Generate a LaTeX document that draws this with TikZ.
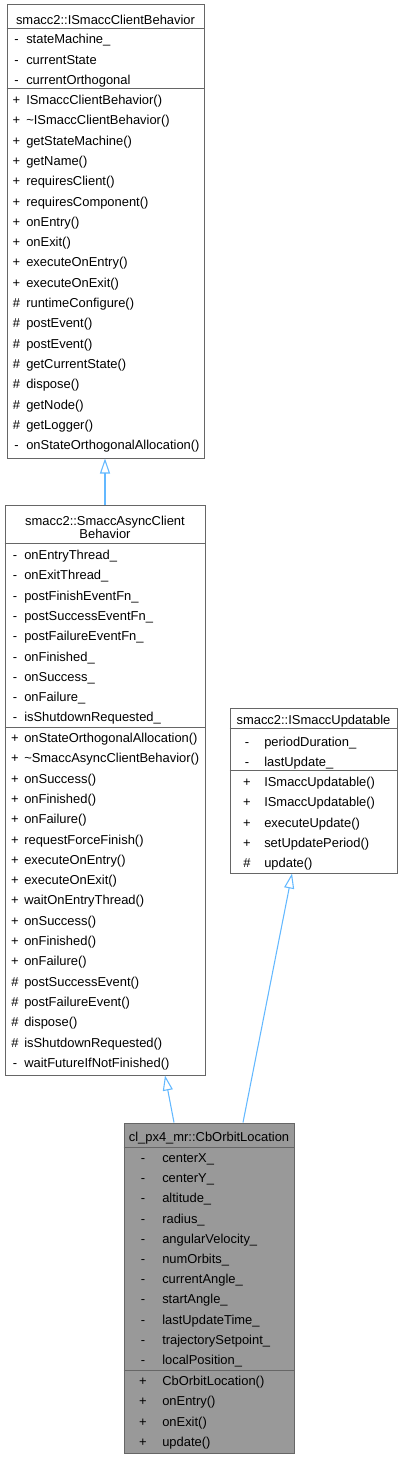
\documentclass[tikz,border=0pt]{standalone}
\usepackage{fontspec}
\setmainfont{Liberation Sans}
\usetikzlibrary{arrows.meta,fit}
\definecolor{UBorder}{HTML}{666666}
\definecolor{UFill}{HTML}{999999}
\definecolor{UEdge}{HTML}{63B8FF}

\begin{document}
\begin{tikzpicture}[x=0.75pt,y=-0.75pt,
  classbox/.style={draw=UBorder,line width=0.75pt,inner sep=0pt,fill=white},
  sep/.style={draw=UBorder,line width=0.75pt},
  ttl/.style={inner sep=0pt,font=\fontsize{9.7}{9.75}\selectfont},
  sym/.style={anchor=base,inner sep=0pt,font=\fontsize{9.7}{11}\selectfont},
  mem/.style={anchor=base west,inner sep=0pt,font=\fontsize{9.7}{11}\selectfont},
  inh/.style={UEdge,line width=0.8pt,-{Triangle[open,length=11.25pt,width=7.5pt]}}]
  \useasboundingbox (0,0) rectangle (402,1459);

  \node[classbox,fit={(7,5) (204,458)}] (base) {};
  \node[classbox,fit={(5,505) (205,1075)}] (async) {};
  \node[classbox,fit={(230,708) (397,873)}] (upd) {};
  \node[classbox,fill=UFill,fit={(124,1123) (294,1453)}] (cb) {};

  \draw[sep] (base.west |- 0,29) -- (base.east |- 0,29);
  \draw[sep] (base.west |- 0,89) -- (base.east |- 0,89);
  \draw[sep] (async.west |- 0,543) -- (async.east |- 0,543);
  \draw[sep] (async.west |- 0,727) -- (async.east |- 0,727);
  \draw[sep] (upd.west |- 0,728) -- (upd.east |- 0,728);
  \draw[sep] (upd.west |- 0,770) -- (upd.east |- 0,770);
  \draw[sep] (cb.west |- 0,1147) -- (cb.east |- 0,1147);
  \draw[sep] (cb.west |- 0,1370) -- (cb.east |- 0,1370);

  \node[ttl,anchor=base] (basetitle) at (105.5,24.5) {smacc2::ISmaccClientBehavior};
  \foreach \s/\m [count=\i from 0] in {-/stateMachine\_,-/currentState,-/currentOrthogonal}{
    \node[sym] (basesa\i) at (16.5,{44+20.3*\i}) {\s};
    \node[mem] (basema\i) at (26,{44+20.3*\i}) {\m};
  }
  \foreach \s/\m [count=\i from 0] in {+/ISmaccClientBehavior(),+/\textasciitilde ISmaccClientBehavior(),
    +/getStateMachine(),+/getName(),+/requiresClient(),+/requiresComponent(),+/onEntry(),+/onExit(),
    +/executeOnEntry(),+/executeOnExit(),\#/runtimeConfigure(),\#/postEvent(),\#/postEvent(),
    \#/getCurrentState(),\#/dispose(),\#/getNode(),\#/getLogger(),-/onStateOrthogonalAllocation()}{
    \node[sym] (basesf\i) at (16.5,{104.5+20.3*\i}) {\s};
    \node[mem] (basemf\i) at (26,{104.5+20.3*\i}) {\m};
  }

  \node[ttl,align=center] (asynctitle) at (105,527) {smacc2::SmaccAsyncClient\\Behavior};
  \foreach \m [count=\i from 0] in {onEntryThread\_,onExitThread\_,postFinishEventFn\_,postSuccessEventFn\_,
    postFailureEventFn\_,onFinished\_,onSuccess\_,onFailure\_,isShutdownRequested\_}{
    \node[sym] (asyncsa\i) at (15,{559.5+20.3*\i}) {-};
    \node[mem] (asyncma\i) at (24,{559.5+20.3*\i}) {\m};
  }
  \foreach \s/\m [count=\i from 0] in {+/onStateOrthogonalAllocation(),+/\textasciitilde SmaccAsyncClientBehavior(),
    +/onSuccess(),+/onFinished(),+/onFailure(),+/requestForceFinish(),+/executeOnEntry(),+/executeOnExit(),
    +/waitOnEntryThread(),+/onSuccess(),+/onFinished(),+/onFailure(),\#/postSuccessEvent(),
    \#/postFailureEvent(),\#/dispose(),\#/isShutdownRequested(),-/waitFutureIfNotFinished()}{
    \node[sym] (asyncsf\i) at (15,{742.5+20.3*\i}) {\s};
    \node[mem] (asyncmf\i) at (24,{742.5+20.3*\i}) {\m};
  }

  \node[ttl,anchor=base] (updtitle) at (313.5,724.5) {smacc2::ISmaccUpdatable};
  \foreach \m [count=\i from 0] in {periodDuration\_,lastUpdate\_}{
    \node[sym] (updsa\i) at (247,{746+20.3*\i}) {-};
    \node[mem] (updma\i) at (264,{746+20.3*\i}) {\m};
  }
  \foreach \s/\m [count=\i from 0] in {+/ISmaccUpdatable(),+/ISmaccUpdatable(),+/executeUpdate(),
    +/setUpdatePeriod(),\#/update()}{
    \node[sym] (updsf\i) at (247,{786.5+20.3*\i}) {\s};
    \node[mem] (updmf\i) at (264,{786.5+20.3*\i}) {\m};
  }

  \node[ttl,anchor=base] (cbtitle) at (209,1141.5) {cl\_px4\_mr::CbOrbitLocation};
  \foreach \m [count=\i from 0] in {centerX\_,centerY\_,altitude\_,radius\_,angularVelocity\_,numOrbits\_,
    currentAngle\_,startAngle\_,lastUpdateTime\_,trajectorySetpoint\_,localPosition\_}{
    \node[sym] (cbsa\i) at (143,{1162.5+20.2*\i}) {-};
    \node[mem] (cbma\i) at (162,{1162.5+20.2*\i}) {\m};
  }
  \foreach \m [count=\i from 0] in {CbOrbitLocation(),onEntry(),onExit(),update()}{
    \node[sym] (cbsf\i) at (143,{1385.5+20.3*\i}) {+};
    \node[mem] (cbmf\i) at (162,{1385.5+20.3*\i}) {\m};
  }

  \draw[inh] (async.north) -- (async.north |- base.south);
  \draw[inh] ([xshift=-26.25pt]cb.north) -- ([xshift=45pt]async.south);
  \draw[inh] ([xshift=25.5pt]cb.north) -- ([xshift=-16.1pt]upd.south);
\end{tikzpicture}
\end{document}
